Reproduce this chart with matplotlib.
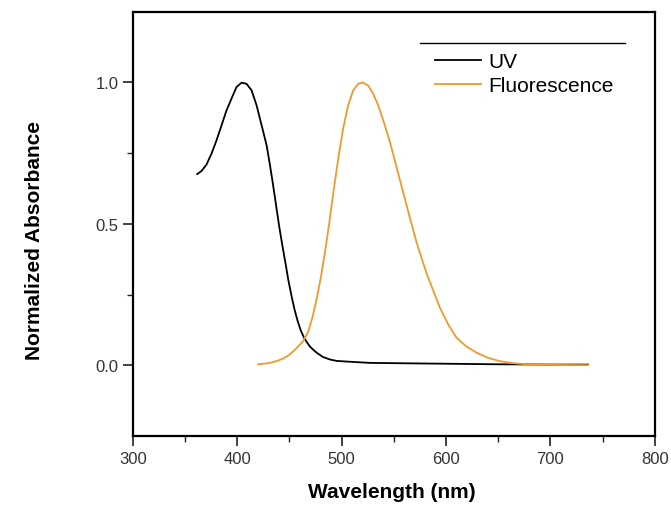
import numpy as np
import matplotlib
matplotlib.use("Agg")
import matplotlib.pyplot as plt
from matplotlib.lines import Line2D

plt.rcParams["font.family"] = ["Liberation Sans", "DejaVu Sans"]

# UV absorbance (black)
uv_x = [361.6, 365.8, 370.6, 375.4, 380.2, 385.0, 389.7, 394.5, 399.3, 404.1,
        408.9, 413.7, 418.5, 423.3, 428.1, 431.0, 434.0, 437.0, 440.0, 443.0,
        446.0, 449.0, 452.0, 455.0, 458.0, 461.0, 464.0, 467.0, 470.0, 476.0,
        482.0, 488.7, 495.0, 507.9, 527.0, 550.0, 600.0, 650.0, 700.0, 736.0]
uv_y = [0.676, 0.687, 0.710, 0.749, 0.796, 0.849, 0.901, 0.943, 0.984, 0.999,
        0.995, 0.972, 0.919, 0.849, 0.778, 0.715, 0.645, 0.570, 0.495, 0.428,
        0.365, 0.300, 0.245, 0.195, 0.155, 0.122, 0.098, 0.080, 0.065, 0.045,
        0.030, 0.021, 0.016, 0.013, 0.009, 0.008, 0.006, 0.004, 0.003, 0.003]

# Fluorescence (orange)
fl_x = [420.0, 430.0, 437.6, 445.0, 450.4, 456.0, 463.1, 468.0, 472.0, 476.0,
        480.0, 484.0, 488.0, 492.0, 496.7, 501.4, 506.2, 511.0, 515.8, 520.0,
        525.4, 530.2, 535.0, 539.8, 546.2, 552.6, 558.9, 564.7, 571.7, 581.3,
        594.0, 602.0, 610.0, 619.0, 629.2, 640.0, 651.5, 664.0, 677.0, 700.0,
        736.0]
fl_y = [0.004, 0.008, 0.015, 0.026, 0.039, 0.058, 0.086, 0.120, 0.170, 0.235,
        0.310, 0.400, 0.500, 0.610, 0.731, 0.837, 0.919, 0.972, 0.995, 1.000,
        0.989, 0.960, 0.919, 0.866, 0.790, 0.700, 0.612, 0.530, 0.435, 0.325,
        0.205, 0.145, 0.098, 0.068, 0.045, 0.027, 0.015, 0.008, 0.004, 0.002,
        0.001]

orange = "#EE9A2C"
tick_color = "#333333"

fig = plt.figure(figsize=(6.71, 5.06), dpi=100)
ax = fig.add_axes([0.198, 0.136, 0.778, 0.839])

ax.plot(uv_x, uv_y, color="black", lw=1.3, label="UV")
ax.plot(fl_x, fl_y, color=orange, lw=1.3, label="Fluorescence")

ax.set_xlim(300, 800)
ax.set_ylim(-0.25, 1.25)
ax.set_xticks([300, 400, 500, 600, 700, 800])
ax.set_xticks([350, 450, 550, 650, 750], minor=True)
ax.set_yticks([0.0, 0.5, 1.0])
ax.set_yticks([0.25, 0.75], minor=True)
ax.tick_params(which="major", direction="out", length=7, width=1.2,
               labelsize=12, labelcolor=tick_color, color="#222222")
ax.tick_params(which="minor", direction="out", length=4, width=1.0, color="#222222")
for s in ax.spines.values():
    s.set_linewidth(1.6)

ax.set_xlabel("Wavelength (nm)", fontsize=15, fontweight="bold")
ax.set_ylabel("Normalized Absorbance", fontsize=15, fontweight="bold")
ax.xaxis.set_label_coords(0.497, -0.108)
ax.yaxis.set_label_coords(-0.17, 0.464)

ax.legend(loc="upper left", bbox_to_anchor=(0.579, 0.905), frameon=False,
          fontsize=15, handlelength=2.2, handletextpad=0.35, labelspacing=0.25,
          borderpad=0, borderaxespad=0)
ax.add_line(Line2D([0.55, 0.9425], [0.927, 0.927], transform=ax.transAxes,
                   color="black", lw=1.0))

fig.savefig("out.png", dpi=100)
